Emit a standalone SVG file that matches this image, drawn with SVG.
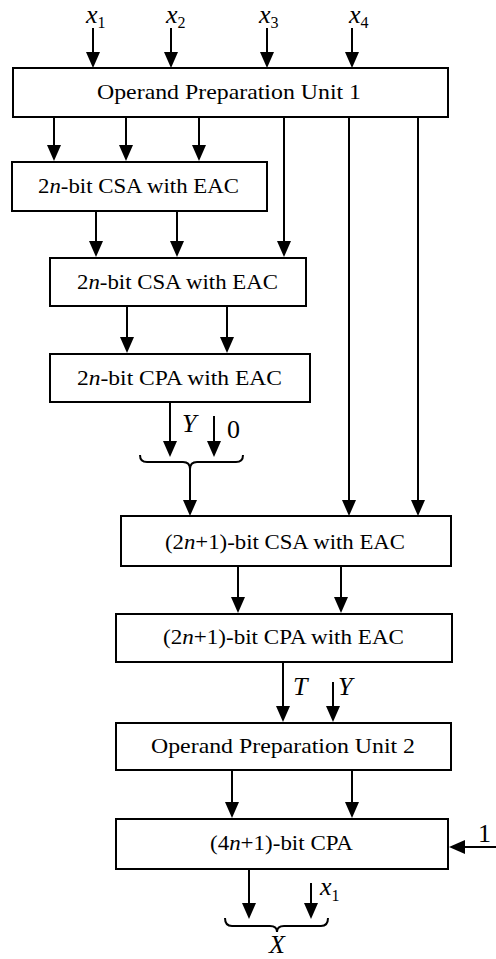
<svg xmlns="http://www.w3.org/2000/svg" width="496" height="959" viewBox="0 0 496 959">
<style>
.box{fill:#fff;stroke:#000;stroke-width:2}
.ln{fill:none;stroke:#000;stroke-width:2}
.ar{fill:none;stroke:#000;stroke-width:2;marker-end:url(#ah)}
.t{font-family:"Liberation Serif","Times New Roman",serif;font-size:21px;fill:#000}
.lb{font-family:"Liberation Serif","Times New Roman",serif;font-size:26px;fill:#000}
.i{font-style:italic}
.sub{font-size:16px;font-style:normal}
</style>
<defs>
<marker id="ah" viewBox="0 0 16 14" refX="13" refY="7" markerWidth="16" markerHeight="14" markerUnits="userSpaceOnUse" orient="auto">
<path d="M0,0 L16,7 L0,14 z" fill="#000"/>
</marker>
</defs>
<g id="connectors">
<line class="ar" x1="93" y1="28" x2="93" y2="65"/>
<line class="ar" x1="171" y1="28" x2="171" y2="65"/>
<line class="ar" x1="267" y1="28" x2="267" y2="65"/>
<line class="ar" x1="352" y1="28" x2="352" y2="65"/>
<line class="ar" x1="54" y1="117" x2="54" y2="158"/>
<line class="ar" x1="126" y1="117" x2="126" y2="158"/>
<line class="ar" x1="199" y1="117" x2="199" y2="158"/>
<line class="ar" x1="284" y1="117" x2="284" y2="254"/>
<line class="ar" x1="349" y1="117" x2="349" y2="513"/>
<line class="ar" x1="418" y1="117" x2="418" y2="513"/>
<line class="ar" x1="96" y1="211" x2="96" y2="254"/>
<line class="ar" x1="177" y1="211" x2="177" y2="254"/>
<line class="ar" x1="127" y1="306" x2="127" y2="350"/>
<line class="ar" x1="227" y1="306" x2="227" y2="350"/>
<line class="ar" x1="170" y1="402" x2="170" y2="454"/>
<line class="ar" x1="214" y1="416" x2="214" y2="454"/>
<path class="ln" d="M140,455 Q140,462 147,462 L183,462 Q190,462 190,469 Q190,462 197,462 L236,462 Q243,462 243,455"/>
<line class="ar" x1="190" y1="469" x2="190" y2="513"/>
<line class="ar" x1="238" y1="566" x2="238" y2="610"/>
<line class="ar" x1="341" y1="566" x2="341" y2="610"/>
<line class="ar" x1="283" y1="662" x2="283" y2="719"/>
<line class="ar" x1="333" y1="682" x2="333" y2="719"/>
<line class="ar" x1="232" y1="770" x2="232" y2="815"/>
<line class="ar" x1="352" y1="770" x2="352" y2="815"/>
<line class="ar" x1="496" y1="847" x2="452" y2="847"/>
<line class="ar" x1="249" y1="869" x2="249" y2="916"/>
<line class="ar" x1="311" y1="883" x2="311" y2="916"/>
<path class="ln" d="M225,918 Q225,926 232,926 L270,926 Q277,926 277,932 Q277,926 284,926 L321,926 Q328,926 328,918"/>
</g>
<g id="labels">
<text class="lb i" x="86" y="23">x<tspan class="sub" dy="5">1</tspan></text>
<text class="lb i" x="166" y="23">x<tspan class="sub" dy="5">2</tspan></text>
<text class="lb i" x="259" y="23">x<tspan class="sub" dy="5">3</tspan></text>
<text class="lb i" x="349" y="23">x<tspan class="sub" dy="5">4</tspan></text>
<text class="lb i" x="182" y="432">Y</text>
<text class="lb" x="227" y="438">0</text>
<text class="lb i" x="293" y="695">T</text>
<text class="lb i" x="338" y="695">Y</text>
<text class="lb" x="478" y="842">1</text>
<text class="lb i" x="320" y="895">x<tspan class="sub" dy="6">1</tspan></text>
<text class="lb i" x="277" y="953" text-anchor="middle" font-size="24">X</text>
</g>
<g id="opu1">
<rect class="box" x="13" y="68" width="435" height="49"/>
<text class="t" x="97" y="99" textLength="264" lengthAdjust="spacingAndGlyphs">Operand Preparation Unit 1</text>
</g>
<g id="csa1">
<rect class="box" x="12" y="162" width="255" height="49"/>
<text class="t" x="38" y="193" textLength="201" lengthAdjust="spacingAndGlyphs">2<tspan class="i">n</tspan>-bit CSA with EAC</text>
</g>
<g id="csa2">
<rect class="box" x="50" y="258" width="256" height="48"/>
<text class="t" x="77" y="289" textLength="201" lengthAdjust="spacingAndGlyphs">2<tspan class="i">n</tspan>-bit CSA with EAC</text>
</g>
<g id="cpa1">
<rect class="box" x="50" y="354" width="260" height="48"/>
<text class="t" x="77" y="385" textLength="205" lengthAdjust="spacingAndGlyphs">2<tspan class="i">n</tspan>-bit CPA with EAC</text>
</g>
<g id="csa3">
<rect class="box" x="121" y="516" width="330" height="50"/>
<text class="t" x="165" y="549" textLength="240" lengthAdjust="spacingAndGlyphs">(2<tspan class="i">n</tspan>+1)-bit CSA with EAC</text>
</g>
<g id="cpa2">
<rect class="box" x="116" y="614" width="336" height="48"/>
<text class="t" x="163" y="644" textLength="241" lengthAdjust="spacingAndGlyphs">(2<tspan class="i">n</tspan>+1)-bit CPA with EAC</text>
</g>
<g id="opu2">
<rect class="box" x="116" y="723" width="335" height="47"/>
<text class="t" x="151" y="753" textLength="264" lengthAdjust="spacingAndGlyphs">Operand Preparation Unit 2</text>
</g>
<g id="cpa3">
<rect class="box" x="116" y="819" width="332" height="50"/>
<text class="t" x="210" y="850" textLength="143" lengthAdjust="spacingAndGlyphs">(4<tspan class="i">n</tspan>+1)-bit CPA</text>
</g>
</svg>
